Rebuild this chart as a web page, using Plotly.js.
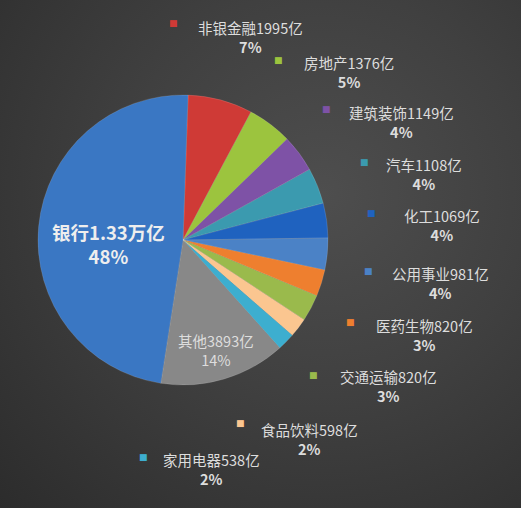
<!DOCTYPE html>
<html>
<head>
<meta charset="utf-8">
<script src="https://cdn.plot.ly/plotly-3.0.1.min.js"></script>
<style>
  html, body { margin: 0; padding: 0; }
  body {
    width: 521px; height: 508px; overflow: hidden;
    background: radial-gradient(circle at 62% 38%, #4e4e4e 0%, #404040 45%, #2c2c2c 100%);
  }
</style>
</head>
<body>
<div id="chart" style="width:521px;height:508px;"></div>
<script>
// sectors, clockwise from 12 o'clock
var sectors = ['非银金融', '房地产', '建筑装饰', '汽车', '化工', '公用事业', '医药生物', '交通运输', '食品饮料', '家用电器', '其他', '银行'];
var amounts = [1995, 1376, 1149, 1108, 1069, 981, 820, 820, 598, 538, 3893, 13300]; // 亿元
var colors = ['#cf3a36', '#9cc43e', '#7e52a6', '#3b9aaf', '#1f62bf', '#4b82c6', '#ee7f2f', '#9aba4c', '#fbc690', '#3daecf', '#888888', '#3a77c3'];

// where each label goes (paper px): marker square, centre of the two-line label
var labelPos = [
  { m: [173, 23], t: [250, 37] },
  { m: [278, 60], t: [349, 72] },
  { m: [326, 109], t: [401, 122] },
  { m: [364, 162], t: [424, 174] },
  { m: [372, 213], t: [442, 225] },
  { m: [368, 271], t: [440, 283] },
  { m: [350, 322], t: [424, 335] },
  { m: [313, 375], t: [388, 386] },
  { m: [240, 423], t: [309, 439] },
  { m: [143, 457], t: [211, 469] },
  { t: [216, 350] },
  { t: [108, 244] }
];

var W = 521, H = 508;
var total = amounts.reduce(function (a, b) { return a + b; }, 0);
function fmt(v) { return v >= 10000 ? (v / 10000).toFixed(2) + '万亿' : v + '亿'; }
function px(x) { return x / W; }
function py(y) { return 1 - y / H; }

var font = '"Microsoft YaHei", "Noto Sans CJK SC", sans-serif';
var annotations = [];
function note(pt, text, f) {
  annotations.push({ x: px(pt[0]), y: py(pt[1]), xref: 'paper', yref: 'paper', xanchor: 'center', yanchor: 'middle',
    text: text, showarrow: false, font: f });
}
sectors.forEach(function (name, i) {
  var pos = labelPos[i];
  var pct = Math.round(amounts[i] / total * 100) + '%';
  var isBank = name === '银行';
  var inside = !pos.m;
  var f = { family: font, size: isBank ? 18.5 : 14.5, color: isBank ? '#eeeeee' : '#dddddd' };
  if (pos.m) note(pos.m, '■', { family: 'DejaVu Sans', size: 9, color: colors[i] });
  var line1 = name + fmt(amounts[i]);
  var text = isBank ? '<b>' + line1 + '<br>' + pct + '</b>'
    : inside ? line1 + '<br>' + pct
    : line1 + '<br><b>' + pct + '</b>';
  note(pos.t, text, f);
});

var cx = 183, cy = 240, r = 145;
Plotly.newPlot('chart', [{
  type: 'pie',
  labels: sectors,
  values: amounts,
  sort: false,
  direction: 'clockwise',
  rotation: 2,
  textinfo: 'none',
  hoverinfo: 'label+value+percent',
  marker: { colors: colors, line: { color: 'rgba(255,255,255,0.25)', width: 0.5 } },
  domain: { x: [px(cx - r), px(cx + r)], y: [py(cy + r), py(cy - r)] },
  showlegend: false
}], {
  width: W, height: H,
  margin: { l: 0, r: 0, t: 0, b: 0 },
  paper_bgcolor: 'rgba(0,0,0,0)',
  plot_bgcolor: 'rgba(0,0,0,0)',
  annotations: annotations
}, { displayModeBar: false, staticPlot: true });
</script>
</body>
</html>
